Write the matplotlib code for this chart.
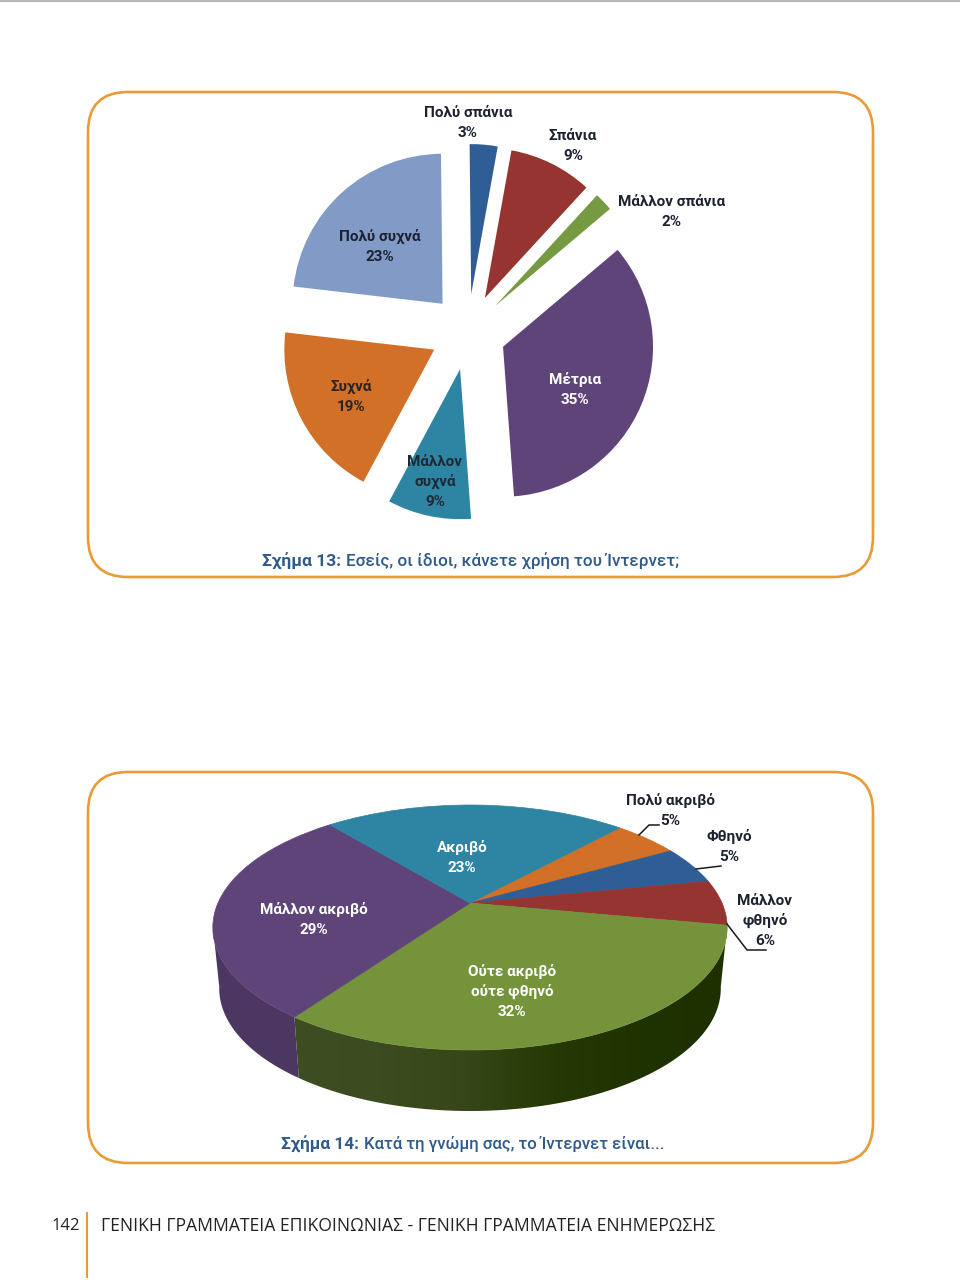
import numpy as np
import matplotlib
matplotlib.use('Agg')
import matplotlib.pyplot as plt
from matplotlib.colors import LinearSegmentedColormap
from matplotlib.patches import FancyBboxPatch, Polygon
from matplotlib.transforms import Transform

W, H = 960, 1284

# Figure 13
use_labels = ['Πολύ σπάνια', 'Σπάνια', 'Μάλλον σπάνια', 'Μέτρια', 'Μάλλον\nσυχνά', 'Συχνά', 'Πολύ συχνά']
use_values = [3, 9, 2, 35, 9, 19, 23]
use_colors = ['#2F5E97', '#963431', '#769A42', '#5E4479', '#2E84A3', '#D27027', '#819BC6']
use_label_pos = [(468, 121), (573, 144), (672, 210), (575, 388), (435, 480), (351, 395), (380, 245)]
use_label_colors = ['#1d2230', '#1d2230', '#1d2230', 'white', '#1d2a35', '#2a2320', '#1d2230']

# Figure 14
cost_labels = ['Πολύ ακριβό', 'Φθηνό', 'Μάλλον\nφθηνό', 'Ούτε ακριβό\nούτε φθηνό', 'Μάλλον ακριβό', 'Ακριβό']
cost_values = [5, 5, 6, 32, 29, 23]
cost_colors = ['#D27027', '#2F5E97', '#963431', '#74933B', '#5E4479', '#2E84A3']
cost_label_pos = [(670, 809), (729, 845), (765, 919), (512, 990), (314, 918), (462, 856)]
cost_label_colors = ['#1d2230', '#1d2230', '#1d2230', 'white', 'white', 'white']

ORANGE = '#E99B35'
BLUE = '#2F5A8C'
FONT = 'Roboto'
LINE_PITCH = 20

# perspective of the second pie
CX, CY = 470, 903
K = 0.2
RX, RY = 252, 117.6
DEPTH = 61
BOTTOM_SCALE = 0.975


def py(y):
    return H - y


def project(u, v):
    w = 1 + K * v
    return CX + RX * u / w, py(CY) + RY * v / w


class Perspective(Transform):
    input_dims = output_dims = 2

    def transform_non_affine(self, values):
        x, y = project(values[:, 0], values[:, 1])
        return np.column_stack([x, y])


def frame(ax, top, bottom):
    box = FancyBboxPatch((88 + 40, py(bottom) + 40), 785 - 80, bottom - top - 80,
                         boxstyle='round,pad=40,rounding_size=40',
                         fc='white', ec=ORANGE, lw=1.9, zorder=1)
    ax.add_patch(box)


def side(ax, start, end, colors):
    # outer wall of the thick pie, angles clockwise from the top, in degrees
    a = np.radians(np.linspace(start, end, 200))
    x, y = project(np.sin(a), np.cos(a))
    xb = CX + (x - CX) * BOTTOM_SCALE
    yb = y - DEPTH
    poly = Polygon(np.column_stack([np.r_[x, xb[::-1]], np.r_[y, yb[::-1]]]), fc='none', ec='none')
    ax.add_patch(poly)
    cmap = LinearSegmentedColormap.from_list('wall', colors)
    im = ax.imshow(np.linspace(0, 1, 256)[None, :], cmap=cmap, aspect='auto', zorder=2,
                   extent=(min(x.min(), xb.min()), max(x.max(), xb.max()), yb.min(), y.max()))
    im.set_clip_path(poly)


def labels(ax, names, values, pos, colors):
    for name, value, (x, y), col in zip(names, values, pos, colors):
        lines = name.split('\n') + [f'{value}%']
        for i, line in enumerate(lines):
            base = y + (i - (len(lines) - 1) / 2) * LINE_PITCH + 6
            ax.text(x, py(base), line, ha='center', va='baseline', color=col,
                    fontsize=11, family=FONT, weight='bold', zorder=5)


fig = plt.figure(figsize=(W / 100, H / 100), dpi=100)
ax = fig.add_axes([0, 0, 1, 1])

frame(ax, 92, 577)
frame(ax, 772, 1163)

wedges, _ = ax.pie(use_values, colors=use_colors, explode=[38] * len(use_values), radius=150,
                   center=(468, py(332)), startangle=90.6, counterclock=False,
                   wedgeprops={'lw': 0})
for w in wedges:
    w.set_zorder(3)

cum = np.cumsum(cost_values) / sum(cost_values) * 360
start_top = 42.9
green_end = start_top + cum[3]
side(ax, 100.8, green_end, ['#3e4e22', '#3c4c20', '#364618', '#263804', '#1f3200', '#1e3000'])
side(ax, green_end, 259.2, ['#4d3863', '#4b3762'])

wedges, _ = ax.pie(cost_values, colors=cost_colors, radius=1, center=(0, 0),
                   startangle=90 - start_top, counterclock=False, wedgeprops={'lw': 0})
for w, c in zip(wedges, cost_colors):
    w.set_transform(Perspective() + ax.transData)
    w.set_edgecolor(c)
    w.set_linewidth(0.5)
    w.set_zorder(3)

labels(ax, use_labels, use_values, use_label_pos, use_label_colors)
labels(ax, cost_labels, cost_values, cost_label_pos, cost_label_colors)

# leader lines
for xs, ys in [([639, 649, 659], [835, 825, 825]),
               ([696, 721], [869, 866]),
               ([727, 747, 766], [924, 950, 950])]:
    ax.plot(xs, [py(y) for y in ys], color='#1a1a1a', lw=1.1, zorder=4)

# captions
ax.text(262, py(561), 'Σχήμα 13:', color=BLUE, fontsize=12.6, family=FONT, weight='bold', va='center')
ax.text(346, py(561), 'Εσείς, οι ίδιοι, κάνετε χρήση του Ίντερνετ;', color=BLUE, fontsize=12.3,
        family=FONT, weight='medium', va='center')
ax.text(281, py(1144), 'Σχήμα 14:', color=BLUE, fontsize=12.4, family=FONT, weight='bold', va='center')
ax.text(364, py(1144), 'Κατά τη γνώμη σας, το Ίντερνετ είναι...', color=BLUE, fontsize=12.1,
        family=FONT, weight='medium', va='center')

# page furniture
ax.plot([0, W], [py(1), py(1)], color='#b5b5b5', lw=1.5, zorder=1)
ax.plot([87, 87], [py(1213), py(1277)], color=ORANGE, lw=1.5, zorder=1)
ax.text(80, py(1226), '142', ha='right', va='center', color='#222222', fontsize=12, family='Open Sans')
ax.text(101, py(1226), 'ΓΕΝΙΚΗ ΓΡΑΜΜΑΤΕΙΑ ΕΠΙΚΟΙΝΩΝΙΑΣ - ΓΕΝΙΚΗ ΓΡΑΜΜΑΤΕΙΑ ΕΝΗΜΕΡΩΣΗΣ', ha='left', va='center',
        color='#222222', fontsize=12.65, family='Open Sans')

ax.set_xlim(0, W)
ax.set_ylim(0, H)
ax.set_aspect('auto')
ax.axis('off')
fig.savefig('out.png', dpi=100)
